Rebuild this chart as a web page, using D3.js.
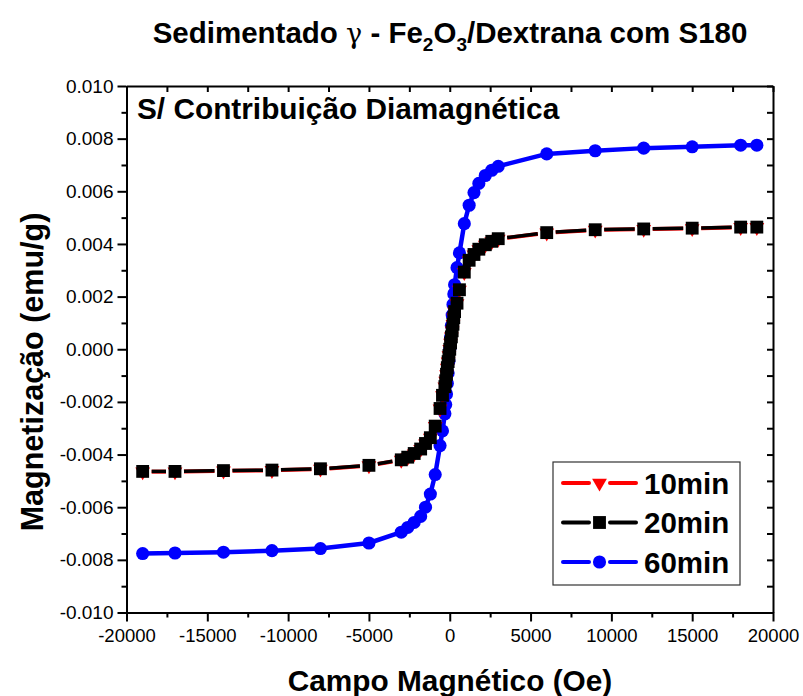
<!DOCTYPE html>
<html>
<head>
<meta charset="utf-8">
<script src="https://cdn.jsdelivr.net/npm/d3@7/dist/d3.min.js"></script>
<style>
  html, body { margin: 0; padding: 0; background: #fff; }
  svg { display: block; font-family: "Liberation Sans", Arial, sans-serif; }
</style>
</head>
<body>
<svg id="chart" width="803" height="696"></svg>
<script>
// Applied field (Oe), one sweep
const field = [
  -19000, -17000, -14000, -11000, -8000, -5000, -3000, -2600, -2200, -1800,
  -1500, -1200, -900, -600, -450, -300, -250, -200, -150, -100, -50, 0,
  50, 100, 150, 200, 250, 300, 450, 600, 900, 1200, 1500, 1800, 2200, 2600,
  3000, 6000, 9000, 12000, 15000, 18000, 19000
];

// Magnetization (emu/g) for each sedimentation time
const mag10 = [
  -0.00465, -0.00465, -0.00462, -0.00460, -0.00455, -0.00442, -0.00421, -0.00411, -0.00397, -0.00380,
  -0.00359, -0.00337, -0.00293, -0.00226, -0.00176, -0.00143, -0.00121, -0.00096, -0.00071, -0.00048, -0.00024, 0.00000,
  0.00024, 0.00047, 0.00070, 0.00095, 0.00120, 0.00142, 0.00174, 0.00225, 0.00292, 0.00337, 0.00359, 0.00379, 0.00396, 0.00409,
  0.00419, 0.00442, 0.00453, 0.00456, 0.00459, 0.00463, 0.00463
];
const mag20 = [
  -0.00464, -0.00464, -0.00461, -0.00459, -0.00454, -0.00441, -0.00420, -0.00410, -0.00396, -0.00379,
  -0.00358, -0.00336, -0.00292, -0.00225, -0.00175, -0.00142, -0.00120, -0.00095, -0.00070, -0.00047, -0.00024, 0.00000,
  0.00024, 0.00047, 0.00070, 0.00095, 0.00120, 0.00143, 0.00175, 0.00226, 0.00293, 0.00338, 0.00360, 0.00380, 0.00397, 0.00410,
  0.00420, 0.00443, 0.00454, 0.00457, 0.00460, 0.00464, 0.00464
];
const mag60 = [
  -0.00776, -0.00774, -0.00771, -0.00765, -0.00757, -0.00736, -0.00695, -0.00677, -0.00658, -0.00635,
  -0.00600, -0.00550, -0.00476, -0.00366, -0.00310, -0.00245, -0.00210, -0.00170, -0.00130, -0.00090, -0.00045, 0.00000,
  0.00045, 0.00090, 0.00130, 0.00170, 0.00210, 0.00245, 0.00310, 0.00366, 0.00477, 0.00547, 0.00595, 0.00630, 0.00660, 0.00680,
  0.00695, 0.00742, 0.00754, 0.00764, 0.00769, 0.00775, 0.00775
];

const seriesNames = ["10min", "20min", "60min"];
const xTicks = [-20000, -15000, -10000, -5000, 0, 5000, 10000, 15000, 20000];
const yTicks = [-0.010, -0.008, -0.006, -0.004, -0.002, 0.000, 0.002, 0.004, 0.006, 0.008, 0.010];

const svg = d3.select("#chart");
svg.append("rect").attr("width", 803).attr("height", 696).attr("fill", "#fff");

const plotLeft = 126.5, plotRight = 773, plotTop = 86, plotBottom = 612.5;
const x = d3.scaleLinear().domain([-20000, 20000]).range([plotLeft, plotRight]);
const y = d3.scaleLinear().domain([-0.010, 0.010]).range([plotBottom, plotTop]);

const xMinor = d3.range(-17500, 20000, 5000);
const yMinor = d3.range(-0.009, 0.0095, 0.002);

// plain hyphen for negative numbers
const hyphen = f => v => f(v).replace("\u2212", "-");

function styleAxis(g, size) {
  g.select(".domain").attr("stroke", "#000").attr("stroke-width", 2);
  g.selectAll(".tick line").attr("stroke", "#000").attr("stroke-width", 2);
  g.selectAll(".tick text").attr("fill", "#000")
    .style("font-family", "'Liberation Sans', Arial, sans-serif").style("font-size", (size || 18) + "px");
}

// bottom axis: outward ticks with labels
svg.append("g").attr("transform", `translate(0,${plotBottom})`)
  .call(d3.axisBottom(x).tickValues(xTicks).tickSize(9).tickSizeOuter(0).tickPadding(7).tickFormat(hyphen(d3.format("d"))))
  .call(g => styleAxis(g, 18.5));
svg.append("g").attr("transform", `translate(0,${plotBottom})`)
  .call(d3.axisBottom(x).tickValues(xMinor).tickSize(5).tickSizeOuter(0).tickFormat(""))
  .call(g => styleAxis(g));

// left axis
svg.append("g").attr("transform", `translate(${plotLeft},0)`)
  .call(d3.axisLeft(y).tickValues(yTicks).tickSize(9).tickSizeOuter(0).tickPadding(4).tickFormat(hyphen(d3.format(".3f"))))
  .call(g => styleAxis(g, 19));
svg.append("g").attr("transform", `translate(${plotLeft},0)`)
  .call(d3.axisLeft(y).tickValues(yMinor).tickSize(5).tickSizeOuter(0).tickFormat(""))
  .call(g => styleAxis(g));

// top and right: inward ticks, no labels
svg.append("g").attr("transform", `translate(0,${plotTop})`)
  .call(d3.axisTop(x).tickValues(xTicks.concat(xMinor)).tickSize(-6).tickSizeOuter(0).tickFormat(""))
  .call(g => styleAxis(g));
svg.append("g").attr("transform", `translate(${plotRight},0)`)
  .call(d3.axisRight(y).tickValues(yTicks.concat(yMinor)).tickSize(-6).tickSizeOuter(0).tickFormat(""))
  .call(g => styleAxis(g));

// data
const series = [
  { name: seriesNames[2], vals: mag60, color: "#0000ff", symbol: d3.symbolCircle, size: 135, rot: 0, lw: 4.5, gap: 0 },
  { name: seriesNames[0], vals: mag10, color: "#ff0000", symbol: d3.symbolTriangle, size: 95, rot: 180, lw: 4, gap: 9 },
  { name: seriesNames[1], vals: mag20, color: "#000000", symbol: d3.symbolSquare, size: 165, rot: 0, lw: 3.5, gap: 9 }
];

const plot = svg.append("g");

series.forEach(s => {
  const pts = field.map((h, i) => [x(h), y(s.vals[i])]);
  if (s.gap === 0) {
    plot.append("path")
      .attr("d", d3.line()(pts))
      .attr("fill", "none").attr("stroke", s.color).attr("stroke-width", s.lw)
      .attr("stroke-linejoin", "round");
  } else {
    // line segments leave a gap around each symbol
    const segs = [];
    for (let i = 0; i < pts.length - 1; i++) {
      const [x0, y0] = pts[i], [x1, y1] = pts[i + 1];
      const len = Math.hypot(x1 - x0, y1 - y0);
      if (len <= 2 * s.gap + 2) continue;
      const ux = (x1 - x0) / len, uy = (y1 - y0) / len;
      segs.push([x0 + ux * s.gap, y0 + uy * s.gap, x1 - ux * s.gap, y1 - uy * s.gap]);
    }
    plot.selectAll(null).data(segs).enter().append("line")
      .attr("x1", d => d[0]).attr("y1", d => d[1]).attr("x2", d => d[2]).attr("y2", d => d[3])
      .attr("stroke", s.color).attr("stroke-width", s.lw);
  }
  const sym = d3.symbol().type(s.symbol).size(s.size);
  plot.selectAll(null).data(pts).enter().append("path")
    .attr("d", sym)
    .attr("transform", d => `translate(${d[0]},${d[1]}) rotate(${s.rot})`)
    .attr("fill", s.color);
});

// legend
const lg = svg.append("g");
lg.append("rect").attr("x", 553).attr("y", 462).attr("width", 187).attr("height", 123)
  .attr("fill", "#fff").attr("stroke", "#333").attr("stroke-width", 1.2);
const legendItems = [series[1], series[2], series[0]];
legendItems.forEach((s, i) => {
  const cy = 483 + i * 39.5;
  lg.append("line").attr("x1", 563).attr("x2", 589).attr("y1", cy).attr("y2", cy)
    .attr("stroke", s.color).attr("stroke-width", 4).attr("stroke-linecap", "round");
  lg.append("line").attr("x1", 610).attr("x2", 636).attr("y1", cy).attr("y2", cy)
    .attr("stroke", s.color).attr("stroke-width", 4).attr("stroke-linecap", "round");
  lg.append("path").attr("d", d3.symbol().type(s.symbol).size(s.size)())
    .attr("transform", `translate(599.5,${cy}) rotate(${s.rot})`).attr("fill", s.color);
  lg.append("text").attr("x", 644).attr("y", cy + 10.5).text(s.name)
    .attr("font-size", 29.5).attr("font-weight", "bold").attr("fill", "#000");
});

// annotation inside the frame
svg.append("text").attr("x", 137).attr("y", 119)
  .attr("font-size", 29.8).attr("font-weight", "bold").attr("fill", "#000")
  .text("S/ Contribuição Diamagnética");

// axis titles
svg.append("text").attr("x", 450).attr("y", 691).attr("text-anchor", "middle")
  .attr("font-size", 29.8).attr("font-weight", "bold").attr("fill", "#000")
  .text("Campo Magnético (Oe)");
svg.append("text").attr("transform", "translate(43,372) rotate(-90)").attr("text-anchor", "middle")
  .attr("font-size", 30.5).attr("font-weight", "bold").attr("fill", "#000")
  .text("Magnetização (emu/g)");

// chart title with Greek letter and subscripts
const title = svg.append("text").attr("x", 450).attr("y", 43).attr("text-anchor", "middle")
  .attr("font-size", 29.5).attr("font-weight", "bold").attr("fill", "#000");
title.append("tspan").text("Sedimentado ");
title.append("tspan").attr("font-family", "'DejaVu Serif', serif").attr("font-weight", "normal").attr("font-size", 27).text("γ");
title.append("tspan").text(" - Fe");
title.append("tspan").attr("dy", 8).attr("font-size", 19).text("2");
title.append("tspan").attr("dy", -8).text("O");
title.append("tspan").attr("dy", 8).attr("font-size", 19).text("3");
title.append("tspan").attr("dy", -8).text("/Dextrana com S180");
</script>
</body>
</html>
